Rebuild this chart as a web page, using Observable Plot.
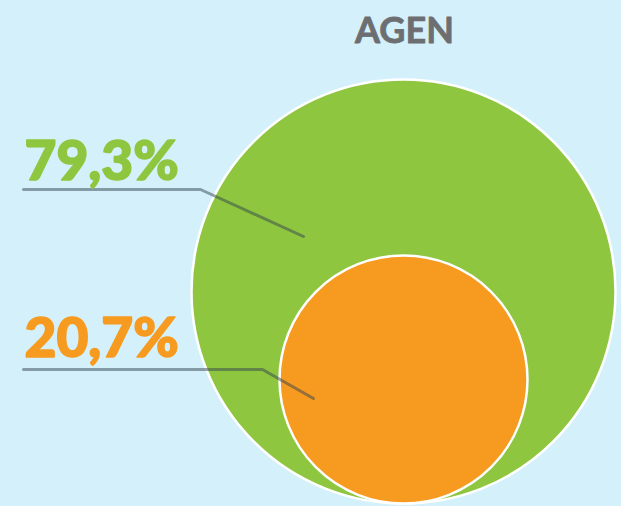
<!DOCTYPE html>
<html>
<head>
<meta charset="utf-8">
<script src="https://cdn.jsdelivr.net/npm/d3@7"></script>
<script src="https://cdn.jsdelivr.net/npm/@observablehq/plot@0.6"></script>
<style>
  html, body { margin: 0; padding: 0; background: #d4f1fb; }
  #chart svg { display: block; }
</style>
</head>
<body>
<div id="chart"></div>
<script>
// ---- data ----
const title = "AGEN";
const categories = ["Groot", "Klein"];
const values = [79.3, 20.7];
const labels = ["79,3%", "20,7%"];
const colors = ["#8fc640", "#f79b20"];

// ---- layout (pixels) ----
const W = 621, H = 506;
const centerX = 403;
const bottomY = 503;
const rOpts = {type: "linear", domain: [20.7, 79.3], range: [124, 212]};
const labelX = 23;
const labelBaseline = [179, 356];
const leaderY = [189, 369];
const leaderBendX = [200, 262];
const leaderEnd = [[303, 236], [313, 398]];

const rScale = Plot.scale({r: rOpts});
const circles = categories.map((c, i) => ({
  category: c, value: values[i], color: colors[i], label: labels[i]
}));

const leaders = [];
circles.forEach((d, i) => {
  leaders.push({k: i, x: labelX, y: leaderY[i]});
  leaders.push({k: i, x: leaderBendX[i], y: leaderY[i]});
  leaders.push({k: i, x: leaderEnd[i][0], y: leaderEnd[i][1]});
});

const chart = Plot.plot({
  width: W,
  height: H,
  margin: 0,
  style: {background: "#d4f1fb", overflow: "visible"},
  x: {domain: [0, W], range: [0, W], axis: null},
  y: {domain: [0, H], range: [0, H], axis: null},
  r: rOpts,
  color: {type: "identity"},
  marks: [
    Plot.dot(circles, {
      x: () => centerX,
      y: d => bottomY - rScale.apply(d.value),
      r: "value",
      fill: "color",
      fillOpacity: 1,
      stroke: "white",
      strokeWidth: 2.5
    }),
    Plot.line(leaders, {
      x: "x", y: "y", z: "k",
      stroke: "#33434d",
      strokeOpacity: 0.5,
      strokeWidth: 3
    }),
    Plot.text(circles, {
      x: () => labelX + 1,
      y: (d, i) => labelBaseline[i],
      text: "label",
      fill: "color",
      stroke: "color",
      strokeWidth: 1.6,
      textAnchor: "start",
      lineAnchor: "bottom",
      fontSize: 55,
      fontWeight: 900,
      fontFamily: "Lato",
      style: "letter-spacing:-2.5px"
    }),
    Plot.text([title], {
      x: () => centerX + 1,
      y: () => 42,
      text: d => d,
      fill: "#6d6e71",
      stroke: "#6d6e71",
      strokeWidth: 0.8,
      textAnchor: "middle",
      lineAnchor: "bottom",
      fontSize: 36,
      fontWeight: 700,
      fontFamily: "Lato",
      style: "letter-spacing:1px"
    })
  ]
});
document.getElementById("chart").append(chart);
</script>
</body>
</html>
